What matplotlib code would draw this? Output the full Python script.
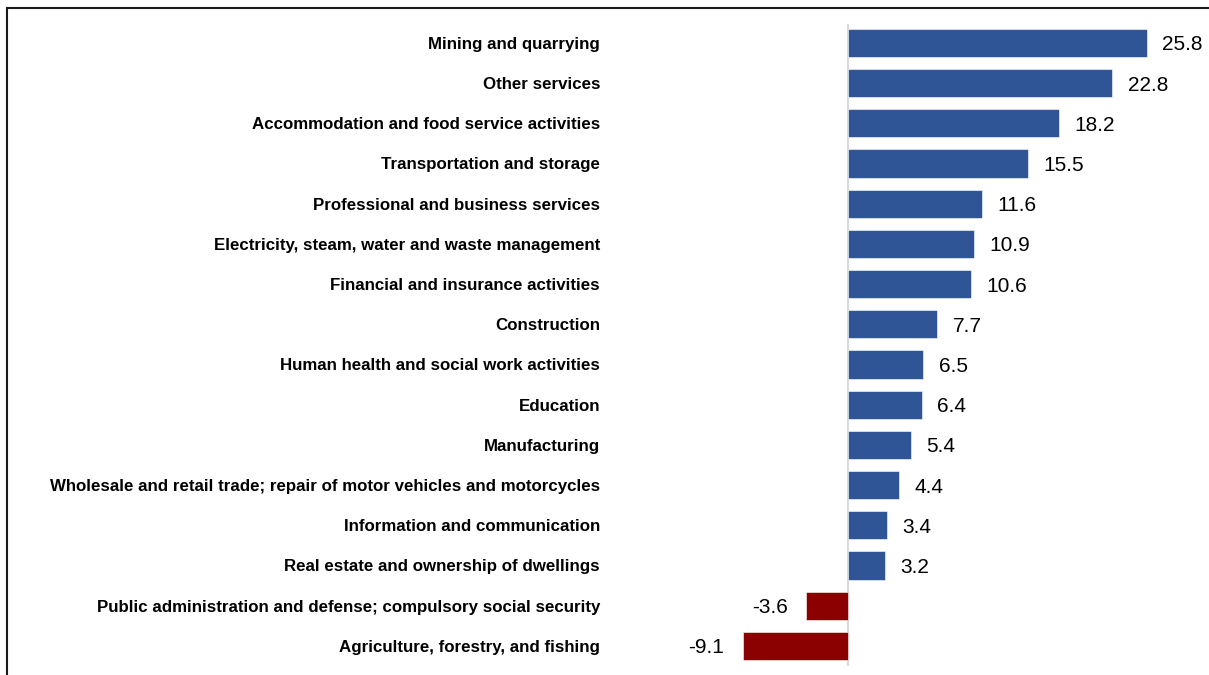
import matplotlib
matplotlib.use('Agg')
import matplotlib.pyplot as plt
from matplotlib.lines import Line2D

sectors = [
    'Mining and quarrying',
    'Other services',
    'Accommodation and food service activities',
    'Transportation and storage',
    'Professional and business services',
    'Electricity, steam, water and waste management',
    'Financial and insurance activities',
    'Construction',
    'Human health and social work activities',
    'Education',
    'Manufacturing',
    'Wholesale and retail trade; repair of motor vehicles and motorcycles',
    'Information and communication',
    'Real estate and ownership of dwellings',
    'Public administration and defense; compulsory social security',
    'Agriculture, forestry, and fishing',
]
growth = [25.8, 22.8, 18.2, 15.5, 11.6, 10.9, 10.6, 7.7, 6.5, 6.4, 5.4, 4.4, 3.4, 3.2, -3.6, -9.1]

blue = '#2F5597'
red = '#8B0000'
plt.rcParams['font.family'] = ['Liberation Sans', 'DejaVu Sans']

W, H = 1209, 675
fig = plt.figure(figsize=(W / 100, H / 100), dpi=100)
ax = fig.add_axes([612 / W, 1 - 666 / H, (W - 612) / W, (666 - 24) / H])

ypos = list(range(len(sectors)))
colors = [blue if v >= 0 else red for v in growth]
ax.barh(ypos, growth, height=0.70, color=colors, edgecolor='white', linewidth=0.4, zorder=2)
ax.axvline(0, color='#d9d9d9', linewidth=1.5, zorder=1)

for y, v in zip(ypos, growth):
    if v >= 0:
        ax.annotate(f'{v:.1f}', (v, y), xytext=(11, 0), textcoords='offset points',
                    ha='left', va='center_baseline', fontsize=15)
    else:
        ax.annotate(f'{v:.1f}', (v, y), xytext=(-13, 0), textcoords='offset points',
                    ha='right', va='center_baseline', fontsize=15)

ax.set_xlim((612 - 848) / 11.59, (W - 848) / 11.59)
ax.set_ylim(15.5, -0.47)
ax.set_yticks(ypos)
ax.set_yticklabels(sectors, fontsize=12.15, fontweight='bold')
ax.tick_params(axis='y', length=0, pad=8.6)
ax.set_xticks([])
for s in ax.spines.values():
    s.set_visible(False)

# outer frame (top and left edges visible)
fig.add_artist(Line2D([7 / W, 1], [1 - 8 / H, 1 - 8 / H], color='#1a1a1a', linewidth=1.5))
fig.add_artist(Line2D([7 / W, 7 / W], [0, 1 - 8 / H], color='#1a1a1a', linewidth=1.5))

fig.savefig('out.png', dpi=100)
